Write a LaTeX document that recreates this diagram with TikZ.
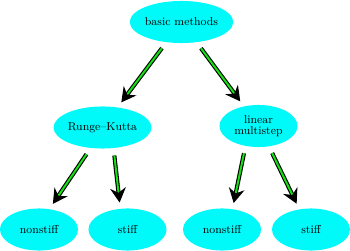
\documentclass[tikz,border=0pt]{standalone}
\usetikzlibrary{arrows.meta,shapes.geometric}
\definecolor{nodecyan}{RGB}{0,250,250}
\definecolor{arrgreen}{RGB}{20,225,20}
\begin{document}
\begin{tikzpicture}[x=0.82pt,y=-0.82pt,
  meth/.style={ellipse,fill=nodecyan,draw=none,minimum width=64pt,minimum height=34.5pt,inner sep=0pt,align=center,font=\fontsize{9.4}{10.5}\selectfont},
  conn/.style={draw=black,double=arrgreen,double distance=1.6pt,line width=0.9pt,
    -{Stealth[length=12pt,width=13pt,inset=4pt]},shorten <=6pt,shorten >=5pt}]
\useasboundingbox (0,0) rectangle (350,251);
\node[meth] (root) at (181.5,22) {basic methods};
\node[meth] (rk) at (102.5,127.5) {Runge--Kutta};
\node[meth] (lm) at (258.5,126) {linear\\[-2pt]multistep};
\node[meth] (ns1) at (39,229.5) {nonstiff};
\node[meth] (s2) at (127.5,229.5) {stiff};
\node[meth] (ns3) at (222,229.5) {nonstiff};
\node[meth] (s4) at (311,229.5) {stiff};
\draw[conn] (root) -- (rk);
\draw[conn] (root) -- (lm);
\draw[conn] (rk.240.75) -- (ns1.63.4);
\draw[conn] (rk.-62.5) -- (s2.109);
\draw[conn] (lm.237.3) -- (ns3.63.4);
\draw[conn] (lm.-63.4) -- (s4.120);
\end{tikzpicture}
\end{document}
